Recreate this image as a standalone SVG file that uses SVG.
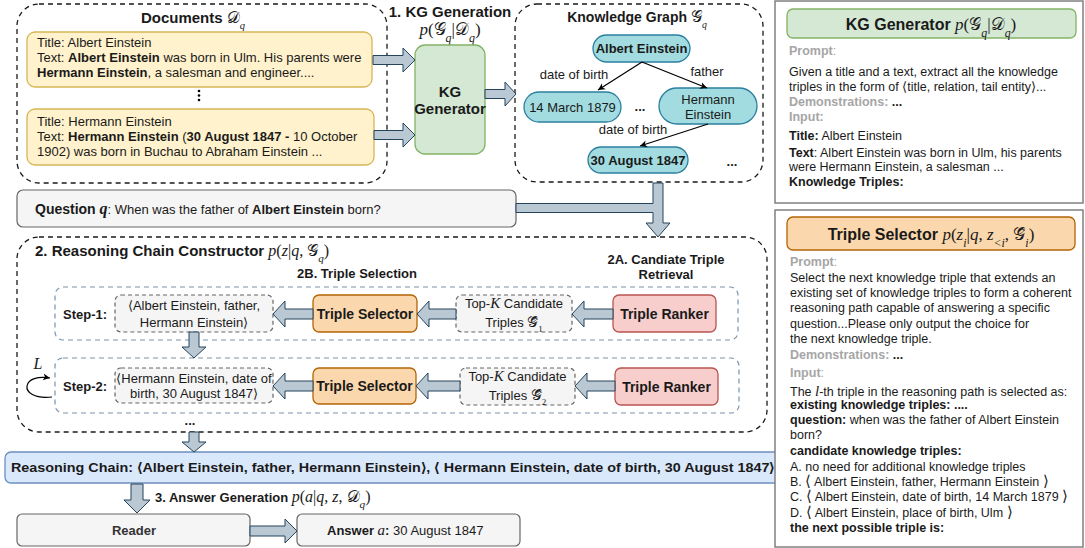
<svg xmlns="http://www.w3.org/2000/svg" width="1085" height="548" viewBox="0 0 1085 548">
<style>
text{font-family:"Liberation Sans",Arial,sans-serif;font-size:13px;fill:#1a1a1a}
.b{font-weight:bold}
.m{font-family:"Liberation Serif","DejaVu Serif",serif;font-style:italic}
.sc{font-family:"DejaVu Serif","DejaVu Sans",serif;font-style:normal}
.sub{font-size:70%}
.gr{fill:#a6a6a6;font-weight:bold}
.p{font-size:12.5px}
.dash{fill:none;stroke:#1a1a1a;stroke-width:1.3;stroke-dasharray:5 4}
.sdash{fill:none;stroke:#7b93ab;stroke-width:1.2;stroke-dasharray:5 4}
.gbox{fill:#f5f5f5;stroke:#666;stroke-width:1.2;stroke-dasharray:4 3}
.flex{fill:#bac8d3;stroke:#23445d;stroke-width:1}
.doc{fill:#fff2cc;stroke:#d6b656;stroke-width:1.3}
.node{fill:#a2dce0;stroke:#2b7f9e;stroke-width:1.3}
.sel{fill:#fad7ac;stroke:#b46504;stroke-width:1.3}
.rank{fill:#f8cecc;stroke:#b85450;stroke-width:1.3}
.grey{fill:#f5f5f5;stroke:#666;stroke-width:1.2}
.panel{fill:#fff;stroke:#808080;stroke-width:1.5}
.edge{fill:none;stroke:#000;stroke-width:1.2}
</style>
<defs>
<marker id="ah" markerWidth="8" markerHeight="8" refX="7" refY="4" orient="auto" markerUnits="userSpaceOnUse">
<path d="M0,0.5 L7,4 L0,7.5 L2,4 Z" fill="#000"/>
</marker>
</defs>

<!-- Documents -->
<g id="documents">
<rect x="17" y="4" width="370" height="179" rx="22" class="dash"/>
<text x="193" y="23" text-anchor="middle" class="b" style="font-size:15px">Documents <tspan class="sc" style="font-weight:normal;font-size:16px">𝒟</tspan><tspan class="m sub" baseline-shift="sub" style="font-weight:normal">q</tspan></text>
</g>
<g id="doc1">
<rect x="27" y="32" width="345" height="55" rx="8" class="doc"/>
<text x="37" y="47">Title: Albert Einstein</text>
<text x="37" y="62">Text:  <tspan class="b">Albert Einstein</tspan> was born in Ulm. His parents were</text>
<text x="37" y="77"><tspan class="b">Hermann Einstein</tspan>, a salesman and engineer....</text>
</g>
<g id="vdots">
<circle cx="199" cy="91" r="1.3" fill="#000"/>
<circle cx="199" cy="95.5" r="1.3" fill="#000"/>
<circle cx="199" cy="100" r="1.3" fill="#000"/>
</g>
<g id="doc2">
<rect x="27" y="109" width="347" height="56" rx="8" class="doc"/>
<text x="37" y="126">Title: Hermann Einstein</text>
<text x="37" y="141">Text: <tspan class="b">Hermann Einstein</tspan> (<tspan class="b">30 August 1847 -</tspan> 10 October</text>
<text x="37" y="156">1902) was born in Buchau to Abraham Einstein ...</text>
</g>

<!-- KG generation -->
<g id="kg-gen-label">
<text x="450" y="17" text-anchor="middle" class="b" style="font-size:15px">1. KG Generation</text>
<text x="450" y="35" text-anchor="middle" style="font-size:17px"><tspan class="m">p</tspan><tspan class="m" style="font-style:normal">(</tspan><tspan class="sc">𝒢</tspan><tspan class="m sub" baseline-shift="sub">q</tspan><tspan class="m" style="font-style:normal">|</tspan><tspan class="sc">𝒟</tspan><tspan class="m sub" baseline-shift="sub">q</tspan><tspan class="m" style="font-style:normal">)</tspan></text>
</g>
<g id="kg-generator">
<rect x="415" y="45" width="70" height="109" rx="10" fill="#d5e8d4" stroke="#82b366" stroke-width="1.3"/>
<text x="450" y="97" text-anchor="middle" class="b" style="font-size:15px">KG</text>
<text x="450" y="114" text-anchor="middle" class="b" style="font-size:15px">Generator</text>
</g>

<!-- Knowledge graph -->
<g id="knowledge-graph">
<rect x="515" y="4" width="248" height="178" rx="22" class="dash"/>
<text x="637" y="22" text-anchor="middle" class="b" style="font-size:14px">Knowledge Graph <tspan class="sc" style="font-weight:normal;font-size:16px">𝒢</tspan><tspan class="m sub" baseline-shift="sub" style="font-weight:normal">q</tspan></text>
</g>
<g id="n-albert">
<rect x="593" y="35" width="97" height="27" rx="13.5" class="node"/>
<text x="641.5" y="53" text-anchor="middle" class="b">Albert Einstein</text>
</g>
<g id="n-march">
<rect x="524" y="92" width="97" height="30" rx="15" class="node"/>
<text x="572.5" y="112" text-anchor="middle">14 March 1879</text>
</g>
<g id="n-hermann">
<rect x="659" y="88" width="98" height="36" rx="18" class="node"/>
<text x="708" y="104" text-anchor="middle">Hermann</text>
<text x="708" y="119" text-anchor="middle">Einstein</text>
</g>
<g id="n-august">
<rect x="588" y="147" width="100" height="26" rx="13" class="node"/>
<text x="638" y="165" text-anchor="middle" class="b">30 August 1847</text>
</g>
<g id="kg-extra">
<text x="640" y="111" text-anchor="middle" class="b">...</text>
<text x="732" y="166" text-anchor="middle" class="b">...</text>
</g>

<!-- Question -->
<g id="question">
<rect x="17" y="190" width="499" height="37" rx="6" class="grey"/>
<text x="35" y="214"><tspan class="b" style="font-size:14px">Question </tspan><tspan class="m b" style="font-size:16px">q</tspan>: When was the father of <tspan class="b">Albert Einstein</tspan> born?</text>
</g>

<!-- Reasoning chain constructor -->
<g id="constructor">
<rect x="17" y="237" width="750" height="195" rx="22" class="dash"/>
<text x="35" y="256" class="b" style="font-size:15px">2. Reasoning Chain Constructor <tspan style="font-weight:normal;font-size:16px"><tspan class="m">p</tspan><tspan class="m" style="font-style:normal">(</tspan><tspan class="m">z</tspan><tspan class="m" style="font-style:normal">|</tspan><tspan class="m">q</tspan><tspan class="m" style="font-style:normal">, </tspan><tspan class="sc">𝒢</tspan><tspan class="m sub" baseline-shift="sub">q</tspan><tspan class="m" style="font-style:normal">)</tspan></tspan></text>
<text x="357" y="278" text-anchor="middle" class="b">2B. Triple Selection</text>
<text x="666" y="264" text-anchor="middle" class="b">2A. Candiate Triple</text>
<text x="666" y="279" text-anchor="middle" class="b">Retrieval</text>
<text x="190" y="425" text-anchor="middle" class="b">...</text>
</g>
<g id="step1">
<rect x="55" y="287" width="683" height="53" rx="8" class="sdash"/>
<text x="63" y="319" class="b">Step-1:</text>
</g>
<g id="step2">
<rect x="55" y="358" width="684" height="55" rx="8" class="sdash"/>
<text x="63" y="391" class="b">Step-2:</text>
<path d="M52,397 C34,399 26,392 27,386 C28,379 38,376 50,378" class="edge" marker-end="url(#ah)"/>
<text x="38" y="369" text-anchor="middle" class="m" style="font-size:16px">L</text>
</g>
<g id="result1">
<rect x="115" y="295" width="158" height="37" rx="6" class="gbox"/>
<text x="194" y="310" text-anchor="middle">⟨Albert Einstein, father,</text>
<text x="194" y="327" text-anchor="middle">Hermann Einstein⟩</text>
</g>
<g id="result2">
<rect x="115" y="368" width="158" height="35" rx="6" class="gbox"/>
<text x="194" y="383" text-anchor="middle">⟨Hermann Einstein, date of</text>
<text x="194" y="398" text-anchor="middle">birth, 30 August 1847⟩</text>
</g>
<g id="selector1">
<rect x="313" y="295" width="104" height="37" rx="6" class="sel"/>
<text x="365" y="319" text-anchor="middle" class="b" style="font-size:14px">Triple Selector</text>
</g>
<g id="selector2">
<rect x="313" y="368" width="103" height="36" rx="6" class="sel"/>
<text x="364.5" y="391" text-anchor="middle" class="b" style="font-size:14px">Triple Selector</text>
</g>
<g id="topk1">
<rect x="456" y="295" width="116" height="37" rx="6" class="gbox"/>
<text x="514" y="308" text-anchor="middle">Top-<tspan class="m" style="font-size:15px">K</tspan> Candidate</text>
<text x="514" y="327" text-anchor="middle">Triples <tspan class="sc" style="font-size:15px">𝒢̂</tspan><tspan class="m sub" baseline-shift="sub" style="font-style:normal">1</tspan></text>
</g>
<g id="topk2">
<rect x="460" y="368" width="115" height="37" rx="6" class="gbox"/>
<text x="517.5" y="381" text-anchor="middle">Top-<tspan class="m" style="font-size:15px">K</tspan> Candidate</text>
<text x="517.5" y="400" text-anchor="middle">Triples <tspan class="sc" style="font-size:15px">𝒢̂</tspan><tspan class="m sub" baseline-shift="sub" style="font-style:normal">2</tspan></text>
</g>
<g id="ranker1">
<rect x="613" y="295" width="103" height="37" rx="6" class="rank"/>
<text x="664.5" y="319" text-anchor="middle" class="b" style="font-size:14px">Triple Ranker</text>
</g>
<g id="ranker2">
<rect x="615" y="368" width="103" height="37" rx="6" class="rank"/>
<text x="666.5" y="392" text-anchor="middle" class="b" style="font-size:14px">Triple Ranker</text>
</g>

<!-- Reasoning chain -->
<g id="reasoning-chain">
<rect x="5" y="452" width="776" height="31" rx="6" fill="#dae8fc" stroke="#6c8ebf" stroke-width="1.3"/>
<text x="393" y="472" text-anchor="middle" class="b" textLength="764" lengthAdjust="spacingAndGlyphs">Reasoning Chain: ⟨Albert Einstein, father, Hermann Einstein⟩, ⟨ Hermann Einstein, date of birth, 30 August 1847⟩</text>
</g>
<g id="answer-gen-label">
<text x="155" y="502" class="b">3. Answer Generation <tspan style="font-weight:normal;font-size:16px"><tspan class="m">p</tspan><tspan class="m" style="font-style:normal">(</tspan><tspan class="m">a</tspan><tspan class="m" style="font-style:normal">|</tspan><tspan class="m">q</tspan><tspan class="m" style="font-style:normal">, </tspan><tspan class="m">z</tspan><tspan class="m" style="font-style:normal">, </tspan><tspan class="sc">𝒟</tspan><tspan class="m sub" baseline-shift="sub">q</tspan><tspan class="m" style="font-style:normal">)</tspan></tspan></text>
</g>
<g id="reader">
<rect x="17" y="514" width="233" height="32" rx="5" class="grey"/>
<text x="134" y="535" text-anchor="middle" class="b" style="fill:#333">Reader</text>
</g>
<g id="answer">
<rect x="297" y="514" width="223" height="32" rx="5" class="grey"/>
<text x="327" y="535"><tspan class="b">Answer </tspan><tspan class="m" style="font-size:15px">a</tspan><tspan class="b">:</tspan> 30 August 1847</text>
</g>

<!-- Connectors -->
<g id="connectors">
<path class="flex" d="M373,55.5 L403,55.5 L403,48 L415,60 L403,72 L403,64.5 L373,64.5 Z"/>
<path class="flex" d="M374,130.5 L403,130.5 L403,123 L415,135 L403,147 L403,139.5 L374,139.5 Z"/>
<path class="flex" d="M485,89.5 L505,89.5 L505,82 L516,94 L505,106 L505,98.5 L485,98.5 Z"/>
<path class="flex" d="M653,183 L663,183 L663,223 L670,223 L658,237 L646,223 L653,223 L653,212.5 L516,212.5 L516,203.5 L653,203.5 Z"/>
<path class="flex" d="M613,309 L584,309 L584,301 L572,314 L584,327 L584,319 L613,319 Z"/>
<path class="flex" d="M456,309 L429,309 L429,301 L417,314 L429,327 L429,319 L456,319 Z"/>
<path class="flex" d="M313,309 L285,309 L285,301 L273,314 L285,327 L285,319 L313,319 Z"/>
<path class="flex" d="M615,381 L587,381 L587,373 L575,386 L587,399 L587,391 L615,391 Z"/>
<path class="flex" d="M460,381 L428,381 L428,373 L416,386 L428,399 L428,391 L460,391 Z"/>
<path class="flex" d="M313,381 L285,381 L285,373 L273,386 L285,399 L285,391 L313,391 Z"/>
<path class="flex" d="M189,332 L199,332 L199,347 L206,347 L194,358 L182,347 L189,347 Z"/>
<path class="flex" d="M189,432 L199,432 L199,442 L206,442 L194,452 L182,442 L189,442 Z"/>
<path class="flex" d="M131,484 L143,484 L143,500 L150,500 L137,513 L124,500 L131,500 Z"/>
<path class="flex" d="M250,526 L285,526 L285,519 L297,531 L285,543 L285,536 L250,536 Z"/>
<path class="edge" d="M642,62 L598,90" marker-end="url(#ah)"/>
<path class="edge" d="M642,62 L707,88" marker-end="url(#ah)"/>
<path class="edge" d="M708,124 L640,146" marker-end="url(#ah)"/>
<text x="574" y="79" text-anchor="middle">date of birth</text>
<text x="707" y="76" text-anchor="middle">father</text>
<text x="633" y="134" text-anchor="middle">date of birth</text>
</g>

<!-- Right panel 1 -->
<g id="panel-kg">
<rect x="775" y="1" width="308" height="202" class="panel"/>
<rect x="787" y="9" width="289" height="29" rx="6" fill="#d5e8d4" stroke="#82b366" stroke-width="1.3"/>
<text x="931" y="30" text-anchor="middle" class="b" style="font-size:16px">KG Generator <tspan style="font-weight:normal;font-size:17px"><tspan class="m">p</tspan><tspan class="m" style="font-style:normal">(</tspan><tspan class="sc">𝒢</tspan><tspan class="m sub" baseline-shift="sub">q</tspan><tspan class="m" style="font-style:normal">|</tspan><tspan class="sc">𝒟</tspan><tspan class="m sub" baseline-shift="sub">q</tspan><tspan class="m" style="font-style:normal">)</tspan></tspan></text>
<text x="789" y="55" class="p"><tspan class="gr">Prompt</tspan><tspan style="fill:#a6a6a6">:</tspan></text>
<text x="789" y="76" class="p">Given a title and a text, extract all the knowledge</text>
<text x="789" y="91" class="p">triples in the form of ⟨title, relation, tail entity⟩...</text>
<text x="789" y="106" class="p"><tspan class="gr">Demonstrations: </tspan><tspan class="b">...</tspan></text>
<text x="789" y="121" class="p gr">Input:</text>
<text x="789" y="140" class="p"><tspan class="b">Title:</tspan> Albert Einstein</text>
<text x="789" y="157" class="p"><tspan class="b">Text</tspan>: Albert Einstein was born in Ulm, his parents</text>
<text x="789" y="171" class="p">were Hermann Einstein, a salesman ...</text>
<text x="789" y="186" class="p b">Knowledge Triples:</text>
</g>

<!-- Right panel 2 -->
<g id="panel-selector">
<rect x="775" y="210" width="308" height="337" class="panel"/>
<rect x="787" y="217" width="288" height="33" rx="6" class="sel"/>
<text x="931" y="240" text-anchor="middle" class="b" style="font-size:16px">Triple Selector <tspan style="font-weight:normal;font-size:17px"><tspan class="m">p</tspan><tspan class="m" style="font-style:normal">(</tspan><tspan class="m">z</tspan><tspan class="m sub" baseline-shift="sub">i</tspan><tspan class="m" style="font-style:normal">|</tspan><tspan class="m">q</tspan><tspan class="m" style="font-style:normal">, </tspan><tspan class="m">z</tspan><tspan class="m sub" baseline-shift="sub">&lt;i</tspan><tspan class="m" style="font-style:normal">, </tspan><tspan class="sc">𝒢̂</tspan><tspan class="m sub" baseline-shift="sub">i</tspan><tspan class="m" style="font-style:normal">)</tspan></tspan></text>
<text x="790" y="266" class="p"><tspan class="gr">Prompt</tspan><tspan style="fill:#a6a6a6">:</tspan></text>
<text x="790" y="282" class="p">Select the next knowledge triple that extends an</text>
<text x="790" y="297" class="p">existing set of knowledge triples to form a coherent</text>
<text x="790" y="312" class="p">reasoning path capable of answering a specific</text>
<text x="790" y="328" class="p">question...Please only output the choice for</text>
<text x="790" y="343" class="p">the next knowledge triple.</text>
<text x="790" y="359" class="p"><tspan class="gr">Demonstrations: </tspan><tspan class="b">...</tspan></text>
<text x="790" y="377" class="p"><tspan class="gr">Input</tspan><tspan style="fill:#a6a6a6">:</tspan></text>
<text x="790" y="396" class="p">The <tspan class="m" style="font-size:15px">l</tspan>-th triple in the reasoning path is selected as:</text>
<text x="790" y="409" class="p b">existing knowledge triples: ....</text>
<text x="790" y="424" class="p"><tspan class="b">question:</tspan> when was the father of Albert Einstein</text>
<text x="790" y="439" class="p">born?</text>
<text x="790" y="455" class="p b">candidate knowledge triples:</text>
<text x="790" y="471" class="p">A. no need for additional knowledge triples</text>
<text x="790" y="486" class="p">B. <tspan style="font-size:15px">⟨</tspan> Albert Einstein, father, Hermann Einstein <tspan style="font-size:15px">⟩</tspan></text>
<text x="790" y="501" class="p">C. <tspan style="font-size:15px">⟨</tspan> Albert Einstein, date of birth, 14 March 1879 <tspan style="font-size:15px">⟩</tspan></text>
<text x="790" y="517" class="p">D. <tspan style="font-size:15px">⟨</tspan> Albert Einstein, place of birth, Ulm <tspan style="font-size:15px">⟩</tspan></text>
<text x="790" y="532" class="p b">the next possible triple is:</text>
</g>
</svg>
